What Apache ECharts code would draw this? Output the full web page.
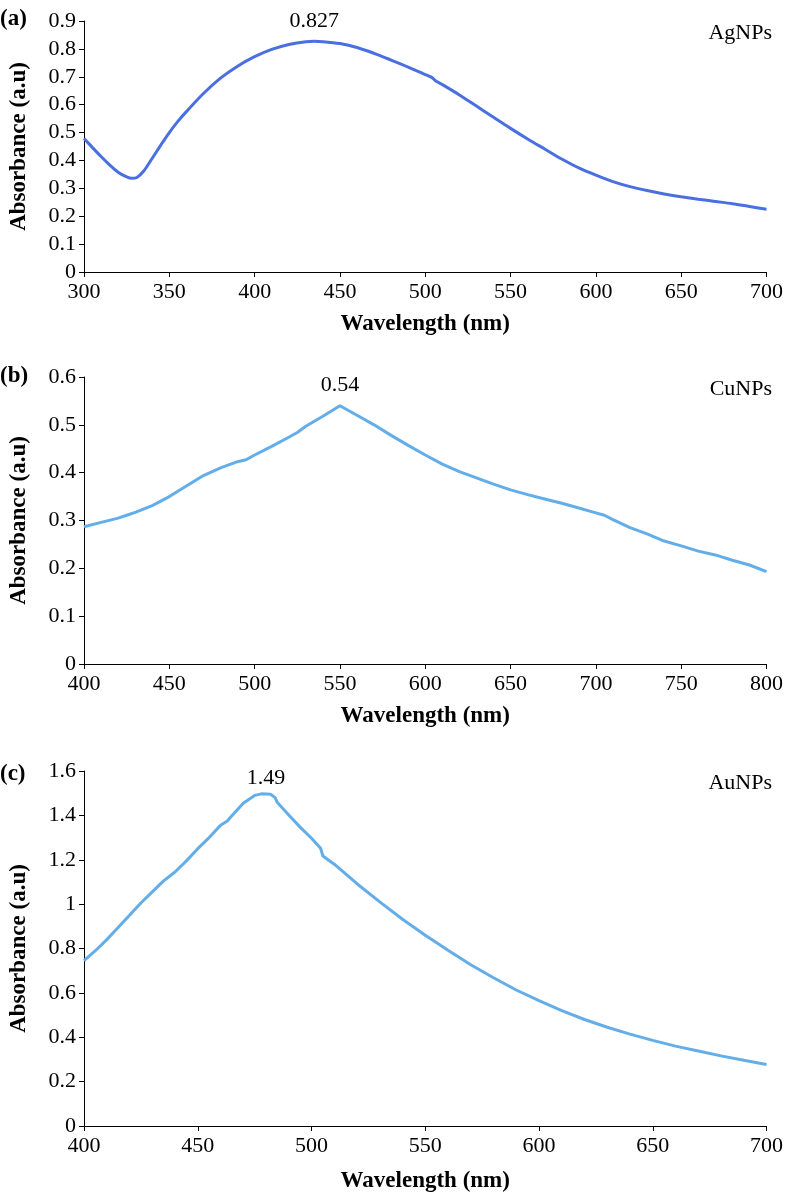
<!DOCTYPE html>
<html>
<head>
<meta charset="utf-8">
<script src="https://cdn.jsdelivr.net/npm/echarts@6/dist/echarts.min.js"></script>
<style>
html,body{margin:0;padding:0;background:#fff;}
#chart{width:786px;height:1194px;}
</style>
</head>
<body>
<div id="chart"></div>
<script>
// ---- Data ----
const agWave = [300,305,310,315,320,325,328,331,335,340,345,350,355,360,370,380,390,400,410,420,430,435,440,450,460,470,480,490,500,504,506,510,520,530,540,550,560,570,580,590,600,610,620,630,640,650,660,670,680,690,700];
const agAbs  = [0.479,0.446,0.414,0.384,0.358,0.341,0.336,0.339,0.362,0.408,0.455,0.5,0.54,0.575,0.64,0.695,0.738,0.772,0.798,0.816,0.826,0.827,0.826,0.819,0.805,0.784,0.76,0.735,0.708,0.697,0.686,0.672,0.635,0.595,0.555,0.515,0.477,0.441,0.405,0.373,0.347,0.324,0.306,0.292,0.28,0.27,0.261,0.253,0.245,0.235,0.225];

const cuWave = [400,410,420,425,430,440,450,460,470,480,490,495,500,510,520,525,530,540,550,560,570,580,590,600,610,620,630,640,650,660,670,680,690,700,705,710,720,730,740,750,760,770,780,790,800];
const cuAbs  = [0.287,0.296,0.305,0.311,0.317,0.331,0.35,0.372,0.394,0.41,0.423,0.427,0.437,0.455,0.474,0.484,0.497,0.518,0.54,0.52,0.5,0.478,0.457,0.437,0.418,0.402,0.389,0.376,0.364,0.354,0.345,0.336,0.326,0.316,0.311,0.302,0.285,0.272,0.257,0.247,0.236,0.228,0.217,0.207,0.193];

const auWave = [400,405,410,415,420,425,430,435,440,445,450,455,460,463,465,470,475,478,482,484,485,490,495,500,504,505,510,520,530,540,550,560,570,580,590,600,610,620,630,640,650,660,670,680,690,700];
const auAbs  = [0.745,0.79,0.84,0.895,0.95,1.005,1.055,1.105,1.145,1.195,1.25,1.3,1.355,1.375,1.398,1.455,1.49,1.497,1.495,1.48,1.458,1.402,1.347,1.297,1.252,1.217,1.18,1.092,1.01,0.932,0.86,0.792,0.727,0.668,0.613,0.565,0.52,0.48,0.445,0.414,0.386,0.36,0.338,0.316,0.296,0.277];

const panelLetters = ['(a)','(b)','(c)'];
const sampleNames = ['AgNPs','CuNPs','AuNPs'];
const peakLabels = ['0.827','0.54','1.49'];
const peakCoords = [[435,0.827],[550,0.54],[480,1.497]];
const xRanges = [[300,700],[400,800],[400,700]];
const yRanges = [[0,0.9,0.1],[0,0.6,0.1],[0,1.6,0.2]];
const xTitle = 'Wavelength (nm)';
const yTitle = 'Absorbance (a.u)';

// ---- Chart ----
const FONT = '"Liberation Serif","Times New Roman",serif';
const grids = [
  {left:82, top:21, width:685, height:251},
  {left:82, top:377, width:686, height:287},
  {left:82, top:771, width:685, height:355}
];
const nameGaps = [41,41,44];
const colors = ['#4a6fe0','#63aee9','#63aee9'];

const pairs = (xs, ys) => xs.map((x,i)=>[x, ys[i]]);
const seriesData = [pairs(agWave,agAbs), pairs(cuWave,cuAbs), pairs(auWave,auAbs)];

const xAxis = grids.map((g,i)=>({
  type:'value', gridIndex:i, min:xRanges[i][0], max:xRanges[i][1], interval:50,
  axisLine:{show:true, onZero:false, lineStyle:{color:'#000', width:1}},
  axisTick:{show:true, inside:false, length:5, lineStyle:{color:'#000'}},
  splitLine:{show:false},
  axisLabel:{color:'#000', fontFamily:FONT, fontSize:22, margin:9},
  name:xTitle, nameLocation:'middle', nameGap:nameGaps[i],
  nameTextStyle:{color:'#000', fontFamily:FONT, fontSize:23, fontWeight:'bold'}
}));
const yAxis = grids.map((g,i)=>({
  type:'value', gridIndex:i, min:yRanges[i][0], max:yRanges[i][1], interval:yRanges[i][2],
  axisLine:{show:true, lineStyle:{color:'#000', width:1}},
  axisTick:{show:true, inside:false, length:5, lineStyle:{color:'#000'}},
  splitLine:{show:false},
  axisLabel:{color:'#000', fontFamily:FONT, fontSize:22, margin:8,
    formatter: v => String(Math.round(v*10)/10)},
  name:yTitle, nameLocation:'middle', nameGap:53, nameRotate:90,
  nameTextStyle:{color:'#000', fontFamily:FONT, fontSize:23, fontWeight:'bold'}
}));
const series = seriesData.map((d,i)=>({
  type:'line', xAxisIndex:i, yAxisIndex:i, data:d, showSymbol:false,
  smooth: i===0 ? 0.3 : false,
  lineStyle:{color:colors[i], width:3}, itemStyle:{color:colors[i]},
  animation:false,
  markPoint:{
    symbol:'circle', symbolSize:0, animation:false,
    data:[{coord:peakCoords[i], value:peakLabels[i]}],
    label:{show:true, position:'top', distance:i===2?5:9, color:'#000', fontFamily:FONT, fontSize:22,
      formatter: ()=>peakLabels[i]}
  }
}));

const graphic = [];
const letterY = [20, 377, 775];
const nameY = [34, 390, 784];
for (let i=0;i<3;i++){
  graphic.push({type:'text', left:0, top:letterY[i]-12,
    style:{text:panelLetters[i], font:'bold 23px '+FONT, fill:'#000'}});
  graphic.push({type:'text', right:14, top:nameY[i]-12,
    style:{text:sampleNames[i], font:'22px '+FONT, fill:'#000'}});
}

const chart = echarts.init(document.getElementById('chart'), null, {renderer:'canvas'});
chart.setOption({
  backgroundColor:'#fff',
  animation:false,
  grid:grids,
  xAxis:xAxis,
  yAxis:yAxis,
  series:series,
  graphic:graphic
});
</script>
</body>
</html>
